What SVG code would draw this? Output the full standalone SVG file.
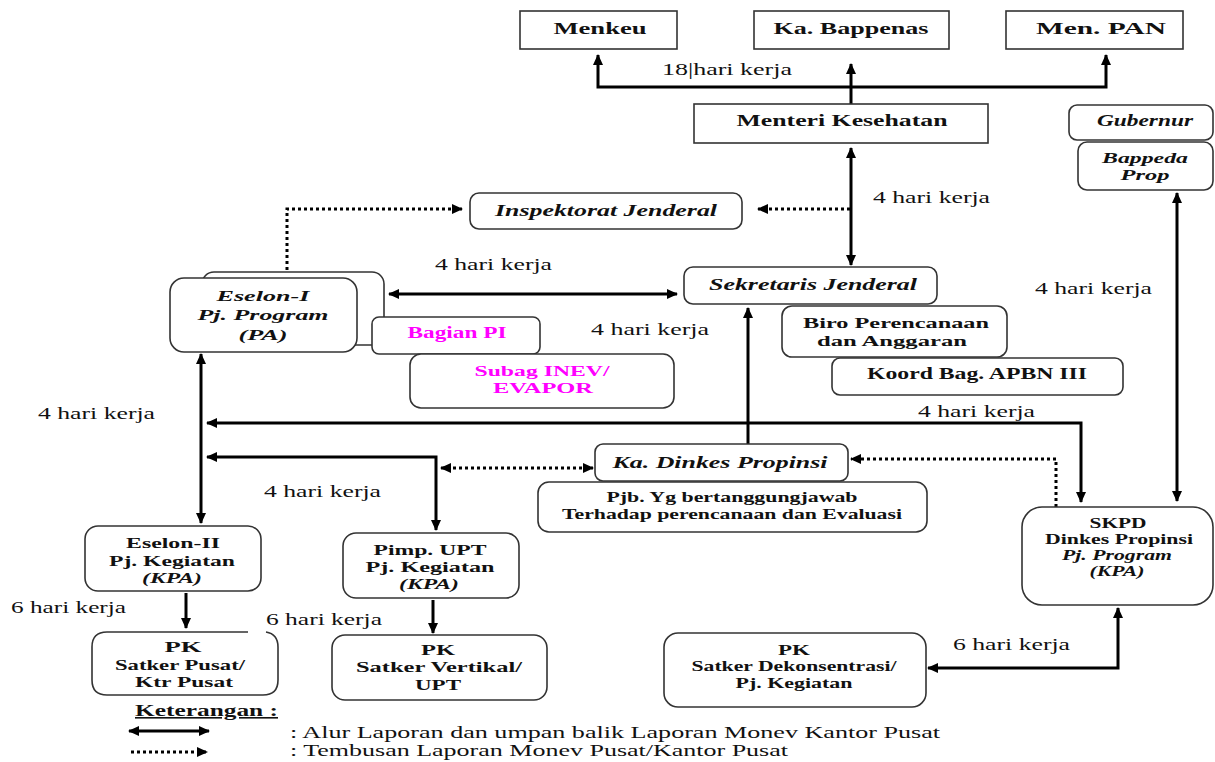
<svg xmlns="http://www.w3.org/2000/svg" width="1215" height="762" viewBox="0 0 1215 762" font-family="Liberation Serif, Times New Roman, serif">
<defs>
<marker id="ah" markerWidth="11" markerHeight="10" refX="10" refY="5" orient="auto-start-reverse" markerUnits="userSpaceOnUse" viewBox="0 0 11 10">
<path d="M0,0 L11,5 L0,10 z" fill="#000"/>
</marker>
</defs>
<style>
.bx{fill:#fff;stroke:#333;stroke-width:1.6}
text{font-size:16px;fill:#111}
.t{text-anchor:middle;font-weight:bold}
.s{font-size:14.5px}
.i{font-style:italic}
.m{fill:#ff00ff}
.c{fill:none;stroke:#000;stroke-width:3}
.d{fill:none;stroke:#000;stroke-width:3;stroke-dasharray:3 3}
.ar{marker-end:url(#ah)}
.ab{marker-start:url(#ah);marker-end:url(#ah)}
</style>
<rect width="1215" height="762" fill="#fff"/>

<g id="connectors">
<path class="c ab" d="M598,55 V87 H1106 V55"/>
<path class="c ar" d="M851,104 V64"/>
<path class="c ab" d="M851,148 V265"/>
<path class="d ar" d="M850,209 H758"/>
<path class="d ar" d="M287,270 V209 H462"/>
<path class="c ab" d="M389,294 H677"/>
<path class="c ab" d="M201,354 V523"/>
<path class="c ab" d="M1081,502 V423 H207"/>
<path class="c ab" d="M207,457 H436 V530"/>
<path class="d ab" d="M441,468 H593"/>
<path class="c ar" d="M748,444 V308"/>
<path class="d ar" d="M1056,507 V459 H851"/>
<path class="c ab" d="M1177,193 V501"/>
<path class="c ar" d="M186,593 V628"/>
<path class="c ar" d="M433,600 V633"/>
<path class="c ab" d="M1118,608 V668 H928"/>
</g>

<g id="menkeu"><rect class="bx" x="520" y="11" width="157" height="38"/><text class="t" x="600" y="34" textLength="93" lengthAdjust="spacingAndGlyphs">Menkeu</text></g>
<g id="bappenas"><rect class="bx" x="754" y="11" width="195" height="38"/><text class="t" x="851" y="34" textLength="155" lengthAdjust="spacingAndGlyphs">Ka. Bappenas</text></g>
<g id="menpan"><rect class="bx" x="1006" y="11" width="177" height="38"/><text class="t" x="1101" y="34" textLength="130" lengthAdjust="spacingAndGlyphs">Men. PAN</text></g>
<text x="662" y="75" textLength="130" lengthAdjust="spacingAndGlyphs">18|hari kerja</text>

<g id="menteri"><rect class="bx" x="694" y="104" width="294" height="39"/><text class="t" x="842" y="126" textLength="211" lengthAdjust="spacingAndGlyphs">Menteri Kesehatan</text></g>

<g id="gubernur"><rect class="bx" x="1069" y="105" width="144" height="35" rx="8"/><text class="t i" x="1145" y="126" textLength="96" lengthAdjust="spacingAndGlyphs">Gubernur</text></g>
<g id="bappeda"><rect class="bx" x="1078" y="142" width="135" height="48" rx="9"/><text class="t i s" x="1145" y="163" textLength="86" lengthAdjust="spacingAndGlyphs">Bappeda</text><text class="t i s" x="1145" y="180" textLength="49" lengthAdjust="spacingAndGlyphs">Prop</text></g>

<g id="inspektorat"><rect class="bx" x="470" y="193" width="272" height="36" rx="9"/><text class="t i" x="606" y="216" textLength="222" lengthAdjust="spacingAndGlyphs">Inspektorat Jenderal</text></g>
<text x="873" y="203" textLength="117" lengthAdjust="spacingAndGlyphs">4 hari kerja</text>
<text x="435" y="270" textLength="117" lengthAdjust="spacingAndGlyphs">4 hari kerja</text>

<g id="eselon1"><rect class="bx" x="202" y="272" width="182" height="73" rx="12"/><rect class="bx" x="170" y="278" width="187" height="74" rx="14"/>
<text class="t i s" x="263" y="301" textLength="93" lengthAdjust="spacingAndGlyphs">Eselon-I</text>
<text class="t i s" x="263" y="320" textLength="131" lengthAdjust="spacingAndGlyphs">Pj. Program</text>
<text class="t i s" x="263" y="340" textLength="49" lengthAdjust="spacingAndGlyphs">(PA)</text></g>

<g id="sekjen"><rect class="bx" x="684" y="267" width="253" height="37" rx="9"/><text class="t i" x="813" y="290" textLength="208" lengthAdjust="spacingAndGlyphs">Sekretaris Jenderal</text></g>

<g id="bagianpi"><rect class="bx" x="372" y="317" width="168" height="37" rx="7"/><text class="t m" x="457" y="338" textLength="99" lengthAdjust="spacingAndGlyphs">Bagian PI</text></g>
<g id="subag"><rect class="bx" x="410" y="354" width="264" height="54" rx="11"/><text class="t m s" x="542" y="376" textLength="135" lengthAdjust="spacingAndGlyphs">Subag INEV/</text><text class="t m s" x="543" y="393" textLength="100" lengthAdjust="spacingAndGlyphs">EVAPOR</text></g>
<text x="591" y="335" textLength="118" lengthAdjust="spacingAndGlyphs">4 hari kerja</text>

<g id="biro"><rect class="bx" x="782" y="306" width="225" height="51" rx="10"/><text class="t s" x="896" y="328" textLength="186" lengthAdjust="spacingAndGlyphs">Biro Perencanaan</text><text class="t s" x="892" y="346" textLength="150" lengthAdjust="spacingAndGlyphs">dan Anggaran</text></g>
<g id="koord"><rect class="bx" x="832" y="358" width="291" height="37" rx="8"/><text class="t" x="977" y="379" textLength="220" lengthAdjust="spacingAndGlyphs">Koord Bag. APBN III</text></g>
<text x="1035" y="294" textLength="117" lengthAdjust="spacingAndGlyphs">4 hari kerja</text>

<text x="38" y="419" textLength="117" lengthAdjust="spacingAndGlyphs">4 hari kerja</text>
<text x="918" y="417" textLength="117" lengthAdjust="spacingAndGlyphs">4 hari kerja</text>
<text x="264" y="497" textLength="117" lengthAdjust="spacingAndGlyphs">4 hari kerja</text>

<g id="kadinkes"><rect class="bx" x="595" y="444" width="253" height="37" rx="8"/><text class="t i" x="720" y="468" textLength="215" lengthAdjust="spacingAndGlyphs">Ka. Dinkes Propinsi</text></g>
<g id="pjb"><rect class="bx" x="538" y="482" width="389" height="50" rx="11"/><text class="t s" x="732" y="502" textLength="251" lengthAdjust="spacingAndGlyphs">Pjb. Yg bertanggungjawab</text><text class="t s" x="732" y="519" textLength="340" lengthAdjust="spacingAndGlyphs">Terhadap perencanaan dan Evaluasi</text></g>

<g id="skpd"><rect class="bx" x="1022" y="507" width="191" height="98" rx="20"/>
<text class="t s" x="1118" y="528" textLength="57" lengthAdjust="spacingAndGlyphs">SKPD</text>
<text class="t s" x="1119" y="544" textLength="148" lengthAdjust="spacingAndGlyphs">Dinkes Propinsi</text>
<text class="t i s" x="1117" y="560" textLength="110" lengthAdjust="spacingAndGlyphs">Pj. Program</text>
<text class="t i s" x="1117" y="576" textLength="55" lengthAdjust="spacingAndGlyphs">(KPA)</text></g>

<g id="eselon2"><rect class="bx" x="85" y="526" width="176" height="65" rx="13"/>
<text class="t s" x="173" y="548" textLength="94" lengthAdjust="spacingAndGlyphs">Eselon-II</text>
<text class="t s" x="172" y="566" textLength="126" lengthAdjust="spacingAndGlyphs">Pj. Kegiatan</text>
<text class="t i s" x="172" y="583" textLength="60" lengthAdjust="spacingAndGlyphs">(KPA)</text></g>

<g id="pimpupt"><rect class="bx" x="343" y="533" width="176" height="65" rx="13"/>
<text class="t s" x="430" y="555" textLength="113" lengthAdjust="spacingAndGlyphs">Pimp. UPT</text>
<text class="t s" x="430" y="572" textLength="129" lengthAdjust="spacingAndGlyphs">Pj. Kegiatan</text>
<text class="t i s" x="429" y="589" textLength="60" lengthAdjust="spacingAndGlyphs">(KPA)</text></g>

<text x="11" y="613" textLength="115" lengthAdjust="spacingAndGlyphs">6 hari kerja</text>
<text x="266" y="625" textLength="116" lengthAdjust="spacingAndGlyphs">6 hari kerja</text>
<text x="953" y="650" textLength="117" lengthAdjust="spacingAndGlyphs">6 hari kerja</text>

<g id="pkpusat"><path class="bx" d="M248,632 H107 Q92,632 92,647 V680 Q92,695 107,695 H263 Q278,695 278,680 V647 Q278,634 266,632"/>
<text class="t s" x="183" y="652" textLength="37" lengthAdjust="spacingAndGlyphs">PK</text>
<text class="t s" x="180" y="670" textLength="130" lengthAdjust="spacingAndGlyphs">Satker Pusat/</text>
<text class="t s" x="184" y="687" textLength="98" lengthAdjust="spacingAndGlyphs">Ktr Pusat</text></g>

<g id="pkvertikal"><rect class="bx" x="332" y="635" width="215" height="65" rx="13"/>
<text class="t s" x="438" y="655" textLength="34" lengthAdjust="spacingAndGlyphs">PK</text>
<text class="t s" x="439" y="672" textLength="166" lengthAdjust="spacingAndGlyphs">Satker Vertikal/</text>
<text class="t s" x="438" y="690" textLength="46" lengthAdjust="spacingAndGlyphs">UPT</text></g>

<g id="pkdekon"><rect class="bx" x="664" y="633" width="262" height="74" rx="14"/>
<text class="t s" x="794" y="655" textLength="32" lengthAdjust="spacingAndGlyphs">PK</text>
<text class="t s" x="794" y="671" textLength="205" lengthAdjust="spacingAndGlyphs">Satker Dekonsentrasi/</text>
<text class="t s" x="794" y="688" textLength="117" lengthAdjust="spacingAndGlyphs">Pj. Kegiatan</text></g>

<g id="legend">
<text x="135" y="716" font-weight="bold" text-decoration="underline" textLength="143" lengthAdjust="spacingAndGlyphs">Keterangan :</text>
<path class="c ab" d="M129,731 H209" stroke-width="2.5"/>
<path class="d ar" d="M131,752 H207" stroke-width="2.5"/>
<text x="290" y="738" textLength="650" lengthAdjust="spacingAndGlyphs">: Alur Laporan dan umpan balik Laporan Monev Kantor Pusat</text>
<text x="290" y="756" textLength="498" lengthAdjust="spacingAndGlyphs">: Tembusan Laporan Monev Pusat/Kantor Pusat</text>
</g>
</svg>
